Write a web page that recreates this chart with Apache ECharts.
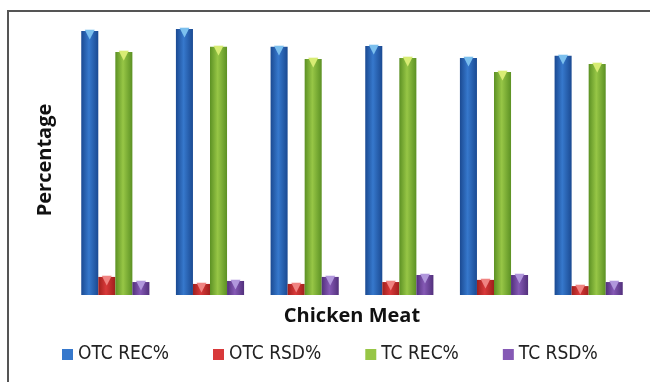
<!DOCTYPE html>
<html>
<head>
<meta charset="utf-8">
<script src="https://cdn.jsdelivr.net/npm/echarts@6/dist/echarts.min.js"></script>
<style>
  html, body { margin: 0; padding: 0; background: #fff; }
  #chart { width: 650px; height: 382px; }
</style>
</head>
<body>
<div id="chart"></div>
<script>
// sample groups (no labels shown on the original axis)
const categories = ['S1', 'S2', 'S3', 'S4', 'S5', 'S6'];
const otcRec = [97.8, 98.5, 91.9, 92.2, 87.8, 88.6];
const otcRsd = [6.7, 4.1, 4.1, 4.8, 5.6, 3.3];
const tcRec = [90.0, 91.9, 87.4, 87.8, 82.6, 85.6];
const tcRsd = [4.8, 5.2, 6.7, 7.4, 7.4, 4.8];

const seriesNames = ['OTC REC%', 'OTC RSD%', 'TC REC%', 'TC RSD%'];

// edge / centre colours for the cylinder-like shading, plus top highlight
const shades = [
  ['#1b4a92', '#3678cc', '#7cc0ee'],
  ['#a01f1c', '#d8393a', '#f08482'],
  ['#5c9124', '#97c646', '#d8ec74'],
  ['#52307c', '#8559b5', '#b197dc']
];

function barColor(i) {
  return new echarts.graphic.LinearGradient(0, 0, 1, 0, [
    { offset: 0, color: shades[i][0] },
    { offset: 0.45, color: shades[i][1] },
    { offset: 1, color: shades[i][0] }
  ]);
}

const chart = echarts.init(document.getElementById('chart'));

const data = [otcRec, otcRsd, tcRec, tcRsd];

chart.setOption({
  animation: false,
  textStyle: { fontFamily: 'Open Sans' },
  graphic: [{
    type: 'rect',
    shape: { x: 8, y: 11, width: 700, height: 420 },
    style: { fill: 'none', stroke: '#555', lineWidth: 2 },
    silent: true
  }],
  grid: { left: 68, right: 14, top: 25, bottom: 87 },
  legend: {
    bottom: 13,
    left: 57,
    width: 600,
    itemWidth: 11,
    itemHeight: 11,
    itemGap: 44,
    icon: 'rect',
    textStyle: { fontSize: 19, color: '#222', fontFamily: 'DejaVu Sans Condensed' },
    data: seriesNames.map((n, i) => ({ name: n, itemStyle: { color: shades[i][1] } }))
  },
  xAxis: {
    type: 'category',
    data: categories,
    name: 'Chicken Meat',
    nameLocation: 'middle',
    nameGap: 11,
    nameTextStyle: { fontSize: 20, fontWeight: 'bold', color: '#111' },
    axisLine: { show: false },
    axisTick: { show: false },
    axisLabel: { show: false }
  },
  yAxis: {
    type: 'value',
    min: 0,
    max: 100,
    name: 'Percentage',
    nameLocation: 'middle',
    nameRotate: 90,
    nameGap: 13,
    nameTextStyle: { fontSize: 20, fontWeight: 'bold', color: '#111' },
    axisLine: { show: false },
    axisTick: { show: false },
    axisLabel: { show: false },
    splitLine: { show: false }
  },
  series: data.map((d, i) => ({
    name: seriesNames[i],
    type: 'bar',
    data: d,
    barGap: '0%',
    barCategoryGap: '28%',
    itemStyle: { color: barColor(i) },
    label: {
      show: true,
      position: 'insideTop',
      distance: -3,
      formatter: '\u25BC',
      fontFamily: 'DejaVu Sans',
      fontSize: 13,
      color: shades[i][2]
    }
  }))
});
</script>
</body>
</html>
